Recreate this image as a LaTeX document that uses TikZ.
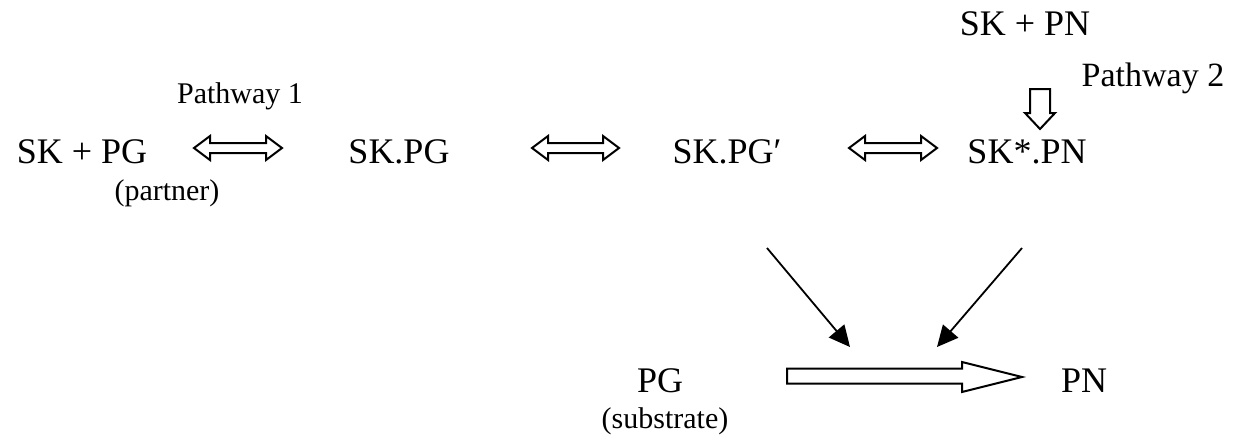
\documentclass[tikz,border=0pt]{standalone}
\usepackage{fontspec}
\setmainfont{Liberation Serif}
\usetikzlibrary{calc,arrows.meta}
\tikzset{
  big/.style={font=\fontsize{36}{40}\selectfont, anchor=base, inner sep=0pt},
  small/.style={font=\fontsize{30}{34}\selectfont, anchor=base, inner sep=0pt},
  mid/.style={font=\fontsize{34}{38}\selectfont, anchor=base, inner sep=0pt},
  hollow/.style={draw=black, line width=2pt, fill=white, line join=miter},
  thin/.style={draw=black, line width=1.8pt, -{Triangle[length=21pt,width=20pt]}}
}
\newcommand{\dblarrow}[2]{%
  \draw[hollow] (#1) -- ++(16,-12) -- ++(0,7) -- ($(#2)+(-16,-5)$) -- ++(0,-7)
    -- (#2) -- ++(-16,12) -- ++(0,-7) -- ($(#1)+(16,5)$) -- ++(0,7) -- cycle;}
\begin{document}
\begin{tikzpicture}[x=1pt,y=-1pt]
\useasboundingbox (0,0) rectangle (1238,437);
% text nodes
\node[big] (skpg) at (82,163) {SK + PG};
\node[small] (path1) at (240,103) {Pathway 1};
\node[small] (partner) at (167,200) {(partner)};
\node[big] (skdpg) at (399,163) {SK.PG};
\node[big] (skdpgp) at (727,163) {SK.PG\char"2032};
\node[big] (skspn) at (1027,163) {SK*.PN};
\node[big] (skpn) at (1025,35) {SK + PN};
\node[mid] (path2) at (1153,86) {Pathway 2};
\node[big] (pg) at (660,392) {PG};
\node[small] (substrate) at (665,428) {(substrate)};
\node[big] (pn) at (1084,392) {PN};
% arrow end coordinates
\coordinate (a1s) at (194,148); \coordinate (a1e) at (282,148);
\coordinate (a2s) at (532,148); \coordinate (a2e) at (619,148);
\coordinate (a3s) at (849,148); \coordinate (a3e) at (937,148);
\dblarrow{a1s}{a1e}
\dblarrow{a2s}{a2e}
\dblarrow{a3s}{a3e}
% down arrow
\coordinate (dtop) at (1040,89); \coordinate (dtip) at (1040,129);
\draw[hollow] ($(dtop)+(-10,0)$) -- ($(dtop)+(10,0)$) -- ($(dtip)+(10,-16)$) -- ($(dtip)+(15,-16)$)
  -- (dtip) -- ($(dtip)+(-15,-16)$) -- ($(dtip)+(-10,-16)$) -- cycle;
% big arrow
\coordinate (bs) at (787,376); \coordinate (be) at (1022,377);
\draw[hollow] ($(bs)+(0,-7.5)$) -- ($(be)+(-60,-8.5)$) -- ($(be)+(-60,-15)$) -- (be)
  -- ($(be)+(-60,15)$) -- ($(be)+(-60,6.5)$) -- ($(bs)+(0,7.5)$) -- cycle;
% diagonal arrows
\coordinate (l1) at (767,248); \coordinate (l2) at (850,347);
\coordinate (r1) at (1022,248); \coordinate (r2) at (937,347);
\draw[thin] (l1) -- (l2);
\draw[thin] (r1) -- (r2);
\end{tikzpicture}
\end{document}
